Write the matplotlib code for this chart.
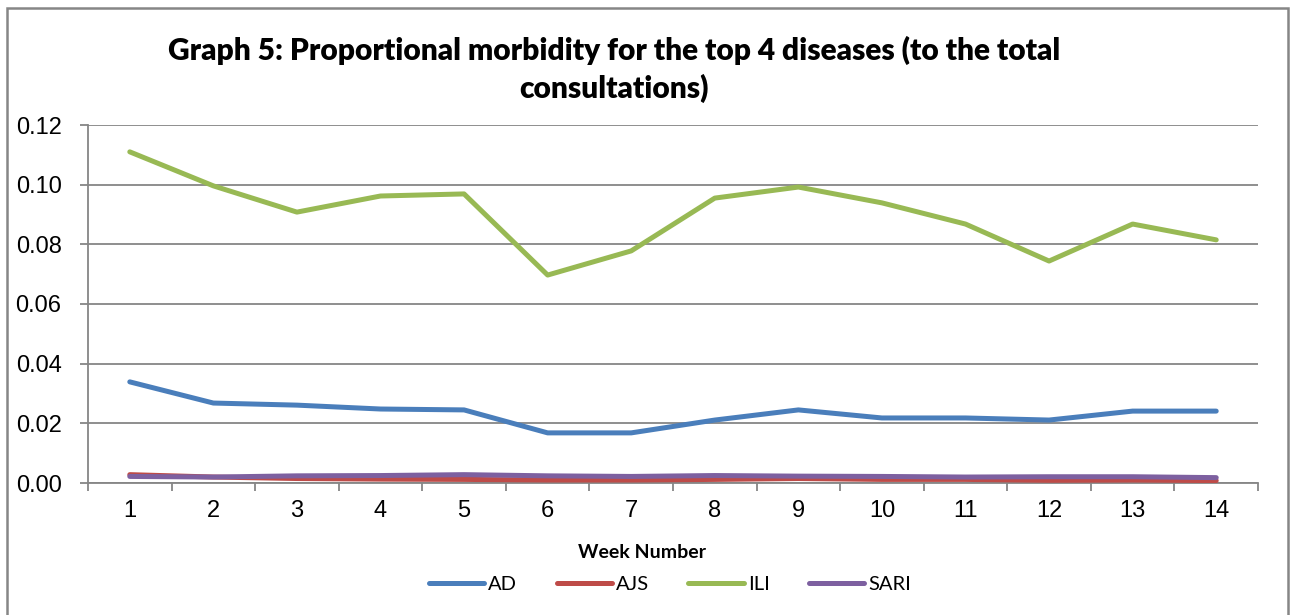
import matplotlib
matplotlib.use("Agg")
import matplotlib.pyplot as plt
from matplotlib.patches import Rectangle

weeks = list(range(1, 15))
week_labels = [str(w) for w in weeks]
ad = [0.0339, 0.0268, 0.0261, 0.0248, 0.0245, 0.0168, 0.0168, 0.0211, 0.0245, 0.0218, 0.0218, 0.0211, 0.0241, 0.0241]
ajs = [0.0028, 0.0020, 0.0015, 0.0013, 0.0012, 0.0010, 0.0010, 0.0012, 0.0015, 0.0012, 0.0012, 0.0009, 0.0010, 0.0008]
ili = [0.1110, 0.0996, 0.0908, 0.0962, 0.0969, 0.0697, 0.0778, 0.0955, 0.0992, 0.0939, 0.0868, 0.0744, 0.0868, 0.0815]
sari = [0.0022, 0.0020, 0.0024, 0.0025, 0.0028, 0.0024, 0.0022, 0.0025, 0.0023, 0.0022, 0.0020, 0.0021, 0.0021, 0.0018]
series_names = ["AD", "AJS", "ILI", "SARI"]
colors = ["#4A7EBB", "#BE4B48", "#98B954", "#7D60A0"]
yticks = [0.00, 0.02, 0.04, 0.06, 0.08, 0.10, 0.12]

W, H = 1292, 615
fig = plt.figure(figsize=(W / 100, H / 100), dpi=100)
ax = fig.add_axes([88 / W, 1 - 483 / H, (1258 - 88) / W, (483 - 125) / H])

grid_c = "#868686"
for name, vals, c in zip(series_names, [ad, ajs, ili, sari], colors):
    ax.plot(weeks, vals, color=c, lw=3.6, label=name, solid_capstyle="round", solid_joinstyle="round", zorder=3)

ax.set_xlim(0.5, 14.5)
ax.set_ylim(0, 0.12)
ax.set_yticks(yticks)
ax.set_yticklabels([f"{v:.2f}" for v in yticks], fontfamily="Liberation Sans", fontsize=17)
ax.set_xticks(weeks)
ax.set_xticklabels(week_labels, fontfamily="Liberation Sans", fontsize=17)
ax.set_xticks([w + 0.5 for w in [0] + weeks], minor=True)
ax.tick_params(axis="x", which="major", length=0, pad=12)
ax.tick_params(axis="x", which="minor", length=6, color=grid_c, width=1.3)
ax.tick_params(axis="y", length=6, color=grid_c, width=1.3, pad=13)
ax.grid(axis="y", color=grid_c, lw=1.3, zorder=0)
for s in ["top", "right"]:
    ax.spines[s].set_visible(False)
for s in ["left", "bottom"]:
    ax.spines[s].set_color(grid_c)
    ax.spines[s].set_linewidth(1.3)
ax.set_axisbelow(True)

fig.text(614 / W, 1 - 50 / H, "Graph 5: Proportional morbidity for the top 4 diseases (to the total",
         ha="center", va="center", fontfamily="Lato", fontweight="heavy", fontsize=21.5)
fig.text(614 / W, 1 - 88 / H, "consultations)",
         ha="center", va="center", fontfamily="Lato", fontweight="heavy", fontsize=21.5)
fig.text(642 / W, 1 - 552 / H, "Week Number", ha="center", va="center",
         fontfamily="Lato", fontweight="bold", fontsize=14)

fig.legend(loc="center", bbox_to_anchor=(670 / W, 1 - 584 / H), ncol=4, frameon=False,
           prop={"family": "Lato", "size": 14.5}, handlelength=2.75, handletextpad=0.2,
           columnspacing=1.95, borderpad=0)

fig.patches.append(Rectangle((7 / W, -0.05), (1288 - 7) / W, 1.05 - 8 / H, transform=fig.transFigure,
                             fill=False, edgecolor=grid_c, lw=1.8))

fig.savefig("out.png", dpi=100)
